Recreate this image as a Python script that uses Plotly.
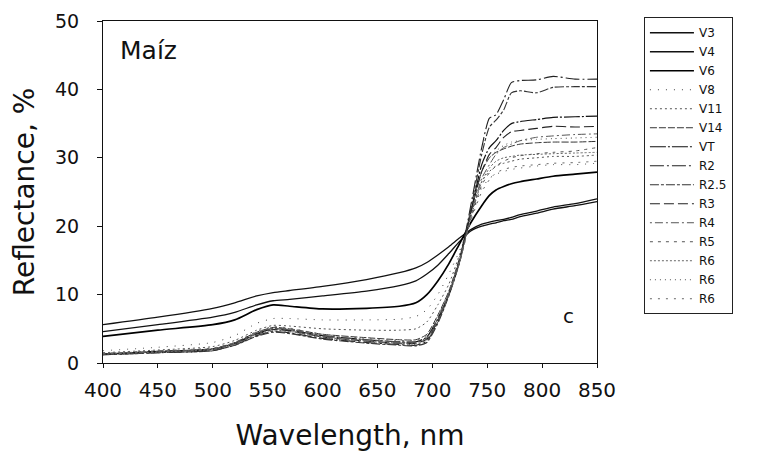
import plotly.graph_objects as go

wavelength = [400, 450, 500, 520, 540, 555, 570, 600, 640, 670, 685, 695, 705, 715,
              725, 735, 745, 752, 758, 765, 772, 780, 795, 810, 830, 850]

series_names = ["V3", "V4", "V6", "V8", "V11", "V14", "VT", "R2", "R2.5",
                "R3", "R4", "R5", "R6", "R6", "R6"]

V3 = [5.6, 6.7, 8.0, 8.8, 9.8, 10.3, 10.6, 11.2, 12.2, 13.2, 13.9, 14.7, 15.8, 17.0,
      18.3, 19.5, 20.3, 20.6, 20.8, 21.0, 21.3, 21.7, 22.2, 22.8, 23.3, 24.0]
V4 = [4.6, 5.6, 6.7, 7.4, 8.5, 9.1, 9.3, 9.8, 10.5, 11.3, 12.0, 13.0, 14.3, 16.0,
      17.8, 19.3, 20.0, 20.3, 20.5, 20.8, 21.0, 21.4, 21.9, 22.5, 23.0, 23.6]
V6 = [3.9, 4.8, 5.6, 6.3, 7.8, 8.5, 8.3, 7.9, 8.0, 8.3, 8.8, 10.0, 12.0, 14.5,
      17.5, 20.5, 23.0, 24.5, 25.3, 25.8, 26.2, 26.5, 26.9, 27.3, 27.6, 27.9]
V8 = [1.8, 2.3, 3.0, 4.0, 5.8, 6.5, 6.5, 6.3, 6.3, 6.4, 6.8, 7.8, 10.0, 13.0,
      16.5, 21.0, 25.5, 27.0, 27.6, 28.0, 28.3, 28.5, 28.8, 29.0, 29.0, 29.2]
V11 = [1.5, 1.9, 2.4, 3.3, 4.8, 5.5, 5.4, 5.0, 4.8, 4.8, 5.0, 6.0, 8.5, 11.5,
       16.0, 21.5, 26.5, 28.0, 28.8, 29.2, 29.5, 29.8, 30.0, 30.2, 30.2, 30.4]
V14 = [1.3, 1.7, 2.1, 3.0, 4.5, 5.2, 5.0, 4.2, 3.7, 3.4, 3.4, 4.2, 7.0, 10.5,
       15.5, 22.0, 28.0, 30.0, 30.8, 31.3, 31.7, 32.0, 32.2, 32.3, 32.3, 32.4]
VT = [1.3, 1.7, 2.0, 2.9, 4.3, 5.0, 4.8, 4.0, 3.4, 3.1, 3.1, 3.8, 6.5, 10.0,
      15.0, 22.0, 29.0, 31.5, 32.5, 34.0, 35.0, 35.3, 35.6, 35.9, 36.0, 36.1]
R2 = [1.2, 1.5, 1.8, 2.6, 4.0, 4.6, 4.4, 3.6, 3.0, 2.7, 2.6, 3.2, 6.0, 10.0,
      15.0, 23.0, 31.5, 35.8, 36.3, 38.5, 41.0, 41.3, 41.4, 41.9, 41.5, 41.5]
R2_5 = [1.2, 1.5, 1.8, 2.6, 3.9, 4.5, 4.3, 3.5, 2.9, 2.6, 2.5, 3.0, 5.8, 9.8,
        14.8, 22.5, 30.5, 34.5, 35.5, 37.0, 39.5, 39.8, 39.5, 40.3, 40.4, 40.4]
R3 = [1.3, 1.6, 2.0, 2.8, 4.2, 4.9, 4.7, 3.8, 3.2, 2.9, 2.9, 3.5, 6.2, 10.0,
      15.0, 22.0, 28.0, 30.5, 31.5, 33.0, 33.8, 34.0, 34.3, 34.6, 34.5, 34.6]
R4 = [1.4, 1.7, 2.1, 2.9, 4.4, 5.1, 4.9, 4.0, 3.4, 3.1, 3.1, 3.7, 6.5, 10.2,
      15.0, 21.5, 27.0, 29.0, 30.5, 31.5, 32.0, 32.5, 33.0, 33.2, 33.4, 33.5]
R5 = [1.3, 1.6, 2.0, 2.8, 4.3, 5.0, 4.8, 3.9, 3.3, 3.0, 3.0, 3.6, 6.3, 10.0,
      14.8, 21.0, 26.0, 27.8, 28.8, 29.5, 30.0, 30.3, 30.6, 30.8, 31.0, 31.5]
R6a = [1.3, 1.6, 2.0, 2.7, 4.2, 4.8, 4.6, 3.8, 3.2, 2.9, 2.8, 3.4, 6.0, 9.8,
       14.8, 21.2, 26.5, 28.5, 29.5, 30.0, 30.2, 30.4, 30.5, 30.6, 30.7, 30.8]
R6b = [1.2, 1.5, 1.9, 2.6, 4.0, 4.7, 4.5, 3.7, 3.1, 2.8, 2.7, 3.3, 6.0, 10.0,
       15.0, 22.0, 28.0, 30.0, 31.0, 31.8, 32.3, 32.5, 32.7, 32.8, 32.9, 33.0]
R6c = [1.4, 1.8, 2.2, 3.0, 4.6, 5.3, 5.1, 4.2, 3.6, 3.3, 3.3, 4.0, 6.8, 10.5,
       15.2, 20.8, 25.0, 26.8, 27.8, 28.3, 28.6, 28.8, 29.0, 29.2, 29.3, 29.5]

values = [V3, V4, V6, V8, V11, V14, VT, R2, R2_5, R3, R4, R5, R6a, R6b, R6c]

styles = [
    ("#111111", 1.3, "solid"),
    ("#111111", 1.3, "solid"),
    ("#000000", 1.7, "solid"),
    ("#444444", 1.0, "1px,7px"),
    ("#555555", 1.0, "2px,3px"),
    ("#333333", 1.0, "7px,2px"),
    ("#111111", 1.2, "16px,2px,2px,2px"),
    ("#222222", 1.1, "14px,3px,2px,3px"),
    ("#333333", 1.1, "9px,2px,3px,2px"),
    ("#222222", 1.1, "10px,4px"),
    ("#555555", 1.0, "2px,3px,8px,3px"),
    ("#555555", 1.0, "3px,5px"),
    ("#666666", 1.0, "2px,2px"),
    ("#555555", 1.0, "1px,4px"),
    ("#666666", 1.0, "2px,6px"),
]

FONT = "DejaVu Sans"

fig = go.Figure()
for name, vals, (col, w, dash) in zip(series_names, values, styles):
    fig.add_trace(go.Scatter(
        x=wavelength, y=vals, mode="lines", name=name,
        line=dict(color=col, width=w, dash=dash, shape="spline", smoothing=0.6),
    ))

fig.update_layout(
    width=761, height=454,
    margin=dict(l=95, r=172, t=13, b=99, autoexpand=False),
    paper_bgcolor="white", plot_bgcolor="white",
    font=dict(family=FONT, color="#111111"),
    showlegend=True,
    legend=dict(
        x=1.095, xanchor="left", y=1.011, yanchor="top",
        maxheight=420,
        bordercolor="#222222", borderwidth=1, bgcolor="white",
        font=dict(family=FONT, size=12, color="#111111"),
        itemwidth=44, tracegroupgap=0,
        entrywidth=60, entrywidthmode="pixels",
    ),
    xaxis=dict(
        range=[400, 850], tickmode="array",
        tickvals=[400, 450, 500, 550, 600, 650, 700, 750, 800, 850],
        showgrid=False, zeroline=False, automargin=False,
        showline=True, linecolor="#111111", linewidth=1.2, mirror=True,
        ticks="outside", ticklen=4, tickcolor="#111111",
        tickfont=dict(family=FONT, size=20, color="#111111"),
        ticklabelstandoff=5,
        title=dict(text="Wavelength, nm", font=dict(family=FONT, size=28, color="#111111"),
                   standoff=24),
    ),
    yaxis=dict(
        range=[0, 50], tickmode="array", tickvals=[0, 10, 20, 30, 40, 50],
        showgrid=False, zeroline=False, automargin=False,
        showline=True, linecolor="#111111", linewidth=1.2, mirror=True,
        ticks="outside", ticklen=5, tickcolor="#111111",
        tickfont=dict(family=FONT, size=19, color="#111111"),
        ticklabelstandoff=14,
        title=dict(text="Reflectance, %", font=dict(family=FONT, size=28, color="#111111"),
                   standoff=18),
    ),
    annotations=[
        dict(text="Maíz", xref="paper", yref="paper", x=0.03, y=0.914,
             xanchor="left", yanchor="middle", showarrow=False,
             font=dict(family=FONT, size=25, color="#111111")),
        dict(text="c", xref="paper", yref="paper", x=0.942, y=0.137,
             xanchor="center", yanchor="middle", showarrow=False,
             font=dict(family=FONT, size=20, color="#111111")),
    ],
)

fig.write_html("out.html")
